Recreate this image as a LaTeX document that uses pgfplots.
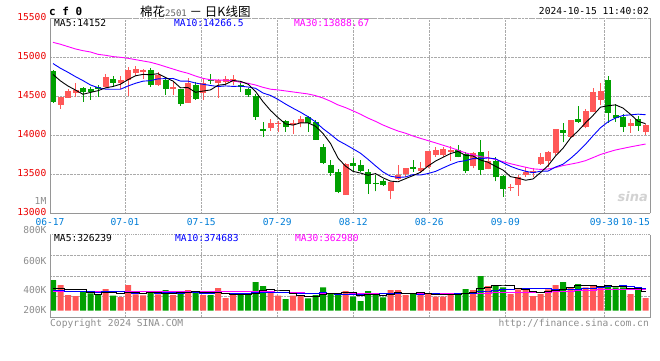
\documentclass[border=0pt]{standalone}
\usepackage{pgfplots}
\pgfplotsset{compat=1.18}
\usepackage{pgfplotstable}
\usepackage{fontspec}
\newfontfamily\mono{DejaVu Sans Mono}
\newfontfamily\cjk{Noto Sans CJK SC}
\definecolor{cred}{RGB}{255,88,88}
\definecolor{cgreen}{RGB}{0,160,0}
\definecolor{pricered}{RGB}{235,0,0}
\definecolor{dateblue}{RGB}{0,125,215}
\definecolor{gridgray}{RGB}{170,170,170}
\definecolor{bordergray}{RGB}{150,150,150}
\definecolor{txtgray}{RGB}{140,140,140}
\definecolor{mag}{RGB}{255,0,255}

\pgfplotstableread{
i o h l c v
1 14393 14495 14342 14491 431
2 14483 14594 14483 14568 263
3 14538 14671 14487 14581 246
7 14620 14791 14615 14748 364
9 14667 14765 14594 14709 230
10 14705 14872 14508 14838 431
11 14799 14889 14765 14850 274
12 14808 14846 14722 14838 258
14 14645 14808 14637 14773 274
16 14594 14688 14517 14620 263
18 14419 14735 14419 14667 347
20 14547 14718 14453 14675 263
22 14671 14718 14483 14705 381
23 14679 14761 14645 14722 213
24 14684 14778 14641 14718 263
29 14094 14209 14060 14158 330
30 14145 14179 14038 14162 252
32 14132 14192 14017 14162 252
33 14154 14248 14102 14209 263
39 13239 13649 13239 13637 330
45 13290 13402 13179 13402 347
46 13440 13620 13427 13491 347
47 13504 13581 13470 13581 263
49 13547 13658 13525 13585 263
50 13598 13803 13577 13803 297
51 13752 13846 13726 13808 235
52 13748 13855 13726 13820 235
53 13790 13863 13675 13812 297
56 13611 13782 13577 13769 347
58 13568 13799 13568 13671 414
61 13320 13376 13290 13342 280
62 13367 13491 13226 13466 358
63 13487 13594 13470 13534 347
64 13513 13585 13461 13543 246
65 13632 13769 13620 13726 280
66 13675 13799 13590 13786 358
67 13769 14081 13743 14081 431
69 13983 14197 13966 14197 392
71 14102 14337 14090 14312 392
72 14303 14611 14303 14556 426
73 14453 14675 14385 14564 414
77 14124 14209 14034 14154 280
79 14047 14141 14004 14132 213
}\redtab

\pgfplotstableread{
i o h l c v
0 14825 14838 14419 14432 515
4 14611 14624 14432 14560 330
5 14594 14624 14453 14551 291
6 14620 14645 14491 14598 274
8 14722 14761 14624 14671 252
13 14838 14863 14624 14650 314
15 14714 14739 14521 14594 347
17 14590 14598 14380 14406 330
19 14645 14679 14453 14466 297
21 14714 14786 14662 14697 263
25 14650 14688 14560 14620 263
26 14594 14611 14496 14517 263
27 14504 14526 14197 14239 482
28 14081 14171 13983 14060 414
31 14188 14197 14047 14111 196
34 14239 14248 14047 14154 207
35 14175 14197 13940 13944 263
36 13850 13884 13632 13649 392
37 13620 13684 13483 13521 291
38 13530 13564 13260 13273 297
40 13645 13709 13547 13611 235
41 13620 13684 13525 13538 162
42 13530 13568 13252 13380 330
43 13393 13491 13282 13380 297
44 13414 13436 13350 13367 224
48 13598 13684 13534 13572 297
54 13816 13880 13718 13726 280
55 13760 13790 13521 13547 364
57 13786 13944 13491 13560 582
59 13671 13726 13410 13461 426
60 13478 13491 13213 13316 392
68 14068 14154 13910 14034 482
70 14209 14376 14162 14175 448
74 14709 14761 14162 14290 414
75 14256 14402 14175 14226 392
76 14231 14273 14047 14111 392
78 14209 14248 14060 14120 375
}\greentab

\begin{document}
\begin{tikzpicture}[x=1pt,y=1pt]
\path[use as bounding box] (0pt,0pt) rectangle (660pt,360pt);
\pgfplotsset{
  kchart/.style={
    scale only axis, width=600pt,
    xmin=-0.4, xmax=79.6,
    axis line style={draw=none},
    major tick length=0pt,
    grid=major,
    major grid style={gridgray, densely dotted, line width=0.8pt},
    /pgf/number format/assume math mode=true,
    ticklabel style={font=\mono\fontsize{9.6}{10}\selectfont},
    xtick={9.6,19.77,29.91,40.04,50.17,60.31,73.51},
    scaled y ticks=false,
    clip=false,
  },
  stick/.style={only marks, mark=*, mark size=0pt, mark options={draw=none, fill=none},
    error bars/y dir=plus, error bars/y explicit, error bars/error mark=none},
}
% ---------- price panel ----------
\begin{axis}[kchart,
  at={(50pt,146.7pt)}, anchor=south west, height=195pt,
  ymin=13000, ymax=15500,
  ytick={13000,13500,14000,14500,15000,15500},
  yticklabel style={pricered, anchor=east, inner sep=0pt, xshift=-3.5pt, yshift=1pt,
    /pgf/number format/1000 sep={}},
  xticklabels={07-01,07-15,07-29,08-12,08-26,09-09,09-30},
  xticklabel style={dateblue, anchor=north, inner sep=0pt, yshift=-4.7pt},
  extra x ticks={-0.4,79.6},
  extra x tick labels={06-17,10-15\phantom{10-15}},
  extra x tick style={grid=none},
]
% wicks
\addplot[stick, error bars/error bar style={line width=1pt, draw=cred}]
  table[x=i, y=l, y error plus expr=\thisrow{h}-\thisrow{l}] {\redtab};
\addplot[stick, error bars/error bar style={line width=1pt, draw=cgreen}]
  table[x=i, y=l, y error plus expr=\thisrow{h}-\thisrow{l}] {\greentab};
% bodies
\addplot[stick, error bars/error bar style={line width=6pt, draw=cred}]
  table[x=i, y=o, y error plus expr=\thisrow{c}-\thisrow{o}] {\redtab};
\addplot[stick, error bars/error bar style={line width=6pt, draw=cgreen}]
  table[x=i, y=c, y error plus expr=\thisrow{o}-\thisrow{c}] {\greentab};
% MA30
\addplot[mag, line width=0.9pt] coordinates {
(0,15192)(1,15167)(2,15137)(3,15107)(4,15085)(5,15068)(6,15038)(7,15026)(8,15009)(9,15000)
(10,14987)(11,14970)(12,14953)(13,14936)(14,14910)(15,14880)(16,14850)(17,14820)(18,14795)(19,14760)
(20,14730)(21,14712)(22,14709)(23,14707)(24,14700)(25,14680)(26,14667)(27,14645)(28,14615)(29,14591)
(30,14582)(31,14569)(32,14556)(33,14543)(34,14530)(35,14509)(36,14478)(37,14437)(38,14390)(39,14355)
(40,14314)(41,14270)(42,14221)(43,14179)(44,14132)(45,14092)(46,14055)(47,14027)(48,13991)(49,13961)
(50,13932)(51,13903)(52,13873)(53,13843)(54,13810)(55,13774)(56,13749)(57,13726)(58,13713)(59,13690)
(60,13662)(61,13636)(62,13613)(63,13591)(64,13570)(65,13563)(66,13568)(67,13586)(68,13612)(69,13630)
(70,13649)(71,13675)(72,13714)(73,13754)(74,13784)(75,13812)(76,13832)(77,13852)(78,13870)(79,13888)};
% MA10
\addplot[blue, line width=0.9pt] coordinates {
(0,14920)(1,14859)(2,14808)(3,14752)(4,14701)(5,14645)(6,14611)(7,14592)(8,14590)(9,14591)
(10,14632)(11,14667)(12,14694)(13,14701)(14,14723)(15,14727)(16,14729)(17,14695)(18,14695)(19,14670)
(20,14654)(21,14639)(22,14625)(23,14633)(24,14627)(25,14630)(26,14619)(27,14603)(28,14542)(29,14511)
(30,14460)(31,14401)(32,14347)(33,14296)(34,14239)(35,14172)(36,14085)(37,14013)(38,13934)(39,13882)
(40,13827)(41,13770)(42,13692)(43,13609)(44,13530)(45,13476)(46,13460)(47,13466)(48,13496)(49,13491)
(50,13510)(51,13537)(52,13581)(53,13624)(54,13660)(55,13675)(56,13702)(57,13700)(58,13710)(59,13698)
(60,13649)(61,13602)(62,13567)(63,13539)(64,13521)(65,13539)(66,13541)(67,13593)(68,13629)(69,13703)
(70,13788)(71,13885)(72,13994)(73,14097)(74,14172)(75,14222)(76,14255)(77,14262)(78,14271)(79,14264)};
% MA5
\addplot[black, line width=0.9pt] coordinates {
(0,14780)(1,14697)(2,14632)(3,14580)(4,14526)(5,14550)(6,14572)(7,14608)(8,14626)(9,14655)
(10,14713)(11,14763)(12,14781)(13,14777)(14,14790)(15,14741)(16,14695)(17,14609)(18,14612)(19,14551)
(20,14567)(21,14582)(22,14642)(23,14653)(24,14703)(25,14692)(26,14656)(27,14563)(28,14431)(29,14319)
(30,14227)(31,14146)(32,14131)(33,14160)(34,14160)(35,14116)(36,14024)(37,13895)(38,13708)(39,13605)
(40,13538)(41,13516)(42,13488)(43,13509)(44,13455)(45,13413)(46,13404)(47,13444)(48,13483)(49,13526)
(50,13606)(51,13670)(52,13718)(53,13766)(54,13794)(55,13743)(56,13735)(57,13683)(58,13655)(59,13602)
(60,13555)(61,13470)(62,13451)(63,13424)(64,13440)(65,13522)(66,13611)(67,13734)(68,13834)(69,13965)
(70,14055)(71,14160)(72,14255)(73,14361)(74,14379)(75,14390)(76,14349)(77,14269)(78,14180)(79,14149)};
% borders
\draw[bordergray, line width=1pt] (rel axis cs:0,0) -- (rel axis cs:1,0);
\draw[bordergray, line width=0.8pt] (rel axis cs:0,0) -- (rel axis cs:0,1);
\draw[bordergray, line width=0.8pt] (rel axis cs:1,0) -- (rel axis cs:1,1);
\draw[gridgray, densely dotted, line width=0.8pt] (rel axis cs:0,1) -- (rel axis cs:1,1);
\end{axis}
% ---------- volume panel ----------
\begin{axis}[kchart,
  at={(50pt,42.3pt)}, anchor=south west, height=83pt,
  ymin=-117.6, ymax=1276.8,
  ytick={235.2,583,930.7},
  yticklabels={}, xticklabels={},
]
\addplot[ybar, bar width=0.8, bar shift=0pt, fill=cred, draw=none] table[x=i, y=v] {\redtab};
\addplot[ybar, bar width=0.8, bar shift=0pt, fill=cgreen, draw=none] table[x=i, y=v] {\greentab};
% volume MA30
\addplot[mag, line width=0.9pt, const plot mark mid] coordinates {
(0,325)(1,324)(2,323)(3,322)(4,321)(5,320)(6,320)(7,319)(8,319)(9,318)
(10,318)(11,318)(12,317)(13,317)(14,317)(15,317)(16,316)(17,316)(18,316)(19,316)
(20,316)(21,316)(22,316)(23,316)(24,316)(25,316)(26,316)(27,316)(28,316)(29,316)
(30,307)(31,299)(32,299)(33,299)(34,295)(35,294)(36,298)(37,296)(38,297)(39,300)
(40,294)(41,290)(42,293)(43,292)(44,290)(45,290)(46,293)(47,291)(48,289)(49,288)
(50,289)(51,288)(52,283)(53,286)(54,287)(55,290)(56,293)(57,296)(58,296)(59,300)
(60,304)(61,307)(62,311)(63,313)(64,315)(65,315)(66,314)(67,319)(68,325)(69,327)
(70,334)(71,342)(72,345)(73,349)(74,355)(75,357)(76,358)(77,359)(78,361)(79,363)};
% volume MA10
\addplot[blue, line width=0.9pt, const plot mark mid] coordinates {
(0,347)(1,340)(2,330)(3,322)(4,318)(5,316)(6,315)(7,318)(8,320)(9,320)
(10,311)(11,296)(12,295)(13,302)(14,296)(15,302)(16,301)(17,297)(18,307)(19,314)
(20,297)(21,296)(22,308)(23,298)(24,297)(25,288)(26,288)(27,304)(28,310)(29,314)
(30,312)(31,306)(32,293)(33,298)(34,292)(35,292)(36,305)(37,286)(38,274)(39,274)
(40,273)(41,269)(42,277)(43,280)(44,282)(45,291)(46,286)(47,283)(48,283)(49,277)
(50,283)(51,290)(52,281)(53,281)(54,286)(55,288)(56,288)(57,320)(58,331)(59,348)
(60,357)(61,362)(62,374)(63,379)(64,376)(65,367)(66,368)(67,353)(68,360)(69,357)
(70,362)(71,373)(72,380)(73,387)(74,404)(75,415)(76,418)(77,403)(78,393)(79,375)};
% volume MA5
\addplot[black, line width=0.9pt, const plot mark mid] coordinates {
(0,375)(1,368)(2,358)(3,352)(4,357)(5,312)(6,281)(7,301)(8,302)(9,282)
(10,310)(11,310)(12,289)(13,301)(14,310)(15,293)(16,291)(17,306)(18,312)(19,317)
(20,300)(21,300)(22,310)(23,283)(24,277)(25,277)(26,277)(27,297)(28,337)(29,350)
(30,348)(31,335)(32,289)(33,259)(34,234)(35,236)(36,275)(37,283)(38,290)(39,315)
(40,309)(41,263)(42,271)(43,271)(44,250)(45,272)(46,309)(47,296)(48,296)(49,303)
(50,293)(51,271)(52,265)(53,265)(54,269)(55,282)(56,305)(57,374)(58,397)(59,427)
(60,432)(61,419)(62,374)(63,361)(64,325)(65,302)(66,318)(67,332)(68,359)(69,389)
(70,422)(71,429)(72,428)(73,414)(74,419)(75,408)(76,408)(77,378)(78,371)(79,326)};
\draw[bordergray, line width=1pt] (rel axis cs:0,0) -- (rel axis cs:1,0);
\draw[bordergray, line width=0.8pt] (rel axis cs:0,0) -- (rel axis cs:0,1);
\draw[bordergray, line width=0.8pt] (rel axis cs:1,0) -- (rel axis cs:1,1);
\draw[gridgray, densely dotted, line width=0.8pt] (rel axis cs:0,1) -- (rel axis cs:1,1);
\end{axis}
% ---------- texts ----------
\begin{scope}[every node/.style={inner sep=0pt, font=\mono\fontsize{9.6}{10}\selectfont}]
\node[anchor=west, font=\mono\bfseries\fontsize{11}{11}\selectfont] at (49pt,348.5pt) {c f 0};
\node[anchor=west] at (140pt,348.5pt) {{\cjk\fontsize{12.5}{13}\selectfont 棉花}{\color{txtgray!70!black}\fontsize{9}{9}\selectfont 2501}{\cjk\fontsize{12.5}{13}\selectfont\ － 日K线图}};
\node[anchor=east] at (649pt,348.5pt) {2024-10-15 11:40:02};
\node[anchor=west] at (54pt,336.5pt) {MA5:14152};
\node[anchor=west, blue] at (174pt,336.5pt) {MA10:14266.5};
\node[anchor=west, mag] at (294pt,336.5pt) {MA30:13888.67};
\node[anchor=east, txtgray] at (46.5pt,159pt) {1M};
\node[anchor=east, txtgray] at (46.7pt,129.5pt) {800K};
\node[anchor=east, txtgray] at (46.7pt,99pt) {600K};
\node[anchor=east, txtgray] at (46.7pt,70pt) {400K};
\node[anchor=east, txtgray] at (46.7pt,50pt) {200K};
\node[anchor=west] at (54pt,122pt) {MA5:326239};
\node[anchor=west, blue] at (175pt,122pt) {MA10:374683};
\node[anchor=west, mag] at (295pt,122pt) {MA30:362980};
\node[anchor=west, txtgray] at (50pt,36pt) {Copyright 2024 SINA.COM};
\node[anchor=east, txtgray] at (649pt,36pt) {http://finance.sina.com.cn};
\node[anchor=east, gray!35, font=\fontspec{DejaVu Sans}\bfseries\itshape\fontsize{13}{13}\selectfont] at (648pt,163pt) {sina};
\end{scope}
\end{tikzpicture}
\end{document}
